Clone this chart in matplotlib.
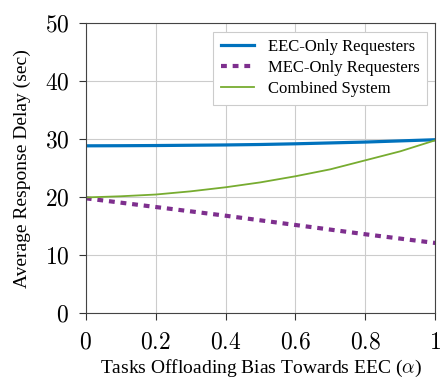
import numpy as np
import matplotlib
matplotlib.use('Agg')
import matplotlib.pyplot as plt

plt.rcParams['font.family'] = 'Liberation Serif'
plt.rcParams['mathtext.fontset'] = 'cm'

# offloading bias and delays (sec)
alpha = [0.0, 0.1, 0.2, 0.3, 0.4, 0.5, 0.6, 0.7, 0.8, 0.9, 1.0]
eec_only = [28.85, 28.87, 28.9, 28.95, 29.0, 29.08, 29.2, 29.35, 29.5, 29.7, 29.9]
mec_only = [19.8, 19.05, 18.3, 17.55, 16.8, 16.0, 15.2, 14.4, 13.6, 12.85, 12.1]
combined = [19.95, 20.15, 20.45, 21.0, 21.7, 22.55, 23.6, 24.8, 26.35, 27.9, 29.8]

xticks = [0, 0.2, 0.4, 0.6, 0.8, 1]
xticklabels = ['$0$', '$0.2$', '$0.4$', '$0.6$', '$0.8$', '$1$']
yticks = [0, 10, 20, 30, 40, 50]
yticklabels = ['$0$', '$10$', '$20$', '$30$', '$40$', '$50$']

fig = plt.figure(figsize=(4.4, 3.8), dpi=100)
ax = fig.add_axes([0.195, 0.176, 0.794, 0.763])

ax.plot(alpha, eec_only, color='#0072BD', lw=2.3, label='EEC-Only Requesters')
ax.plot(alpha, mec_only, color='#7E2F8E', lw=3.0, linestyle=(0, (1.4, 1.4)),
        label='MEC-Only Requesters')
ax.plot(alpha, combined, color='#77AC30', lw=1.3, label='Combined System')

ax.set_xlim(0, 1)
ax.set_ylim(0, 50)
ax.set_xticks(xticks)
ax.set_xticklabels(xticklabels, fontsize=17)
ax.set_yticks(yticks)
ax.set_yticklabels(yticklabels, fontsize=17)
ax.tick_params(direction='out', length=5, width=0.8, color='#333333')
ax.tick_params(axis='x', pad=9)
ax.tick_params(axis='y', pad=7)
ax.grid(True, color='#cccccc', lw=0.8)
for s in ax.spines.values():
    s.set_color('#444444')
    s.set_linewidth(0.8)

ax.set_xlabel(r'Tasks Offloading Bias Towards EEC ($\alpha$)', fontsize=14, labelpad=3)
ax.set_ylabel('Average Response Delay (sec)', fontsize=14, labelpad=10)

leg = ax.legend(loc='upper right', fontsize=12, fancybox=False, framealpha=1,
                edgecolor='#cccccc', handlelength=2.0, borderpad=0.45, labelspacing=0.3)
leg.get_frame().set_linewidth(0.8)

fig.savefig('out.png', dpi=100)
